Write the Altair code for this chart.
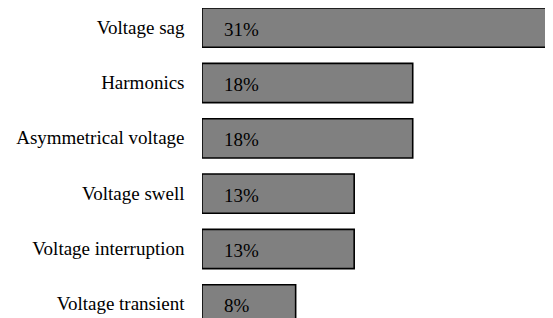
import altair as alt
import pandas as pd

categories = ["Voltage sag", "Harmonics", "Asymmetrical voltage",
              "Voltage swell", "Voltage interruption", "Voltage transient"]
values = [31, 18, 18, 13, 13, 8]
labels = ["31%", "18%", "18%", "13%", "13%", "8%"]

df = pd.DataFrame({"cat": categories, "val": values, "lab": labels})

FONT = "Liberation Serif"

y = alt.Y("cat:N", sort=categories,
          scale=alt.Scale(paddingInner=0.29, paddingOuter=0),
          axis=alt.Axis(title=None, domain=False, ticks=False, labelPadding=18,
                        labelFont=FONT, labelFontSize=19, labelColor="black",
                        minExtent=194, maxExtent=194))

xs = alt.Scale(domain=[0, 29.3], nice=False, zero=True)

bars = alt.Chart(df).mark_bar(fill="#808080", stroke="black", strokeWidth=1.6,
                              clip=True).encode(
    x=alt.X("val:Q", scale=xs, axis=None),
    y=y,
)

text = alt.Chart(df).mark_text(align="left", baseline="middle", dx=22, dy=2,
                               font=FONT, fontSize=19, color="black").encode(
    x=alt.datum(0, scale=xs),
    y=alt.Y("cat:N", sort=categories),
    text="lab:N",
)

chart = (bars + text).properties(
    width=343, height=316,
    padding={"left": 0, "top": 0, "right": 0, "bottom": -6},
    background="white").configure_view(stroke=None)

chart.save("out.html", embed_options={"renderer": "svg", "actions": False})
